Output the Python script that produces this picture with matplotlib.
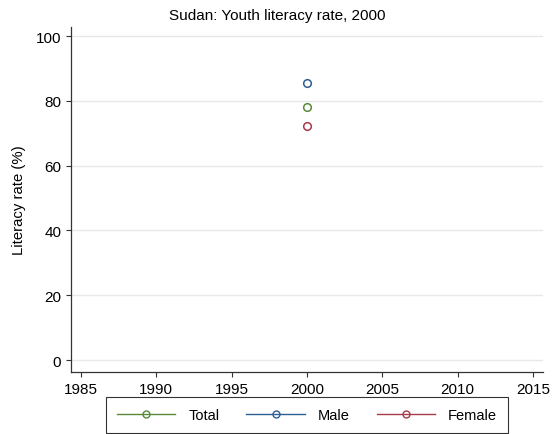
import matplotlib
matplotlib.use("Agg")
import matplotlib.pyplot as plt
from matplotlib.lines import Line2D

plt.rcParams['font.family'] = ['Liberation Sans', 'DejaVu Sans']

years = [2000]
series_names = ["Total", "Male", "Female"]
total = [78.1]
male = [85.6]
female = [72.2]
colors = ["#5a8a3a", "#2c5f94", "#a8394d"]
yticks = [0, 20, 40, 60, 80, 100]
xticks = [1985, 1990, 1995, 2000, 2005, 2010, 2015]

fig = plt.figure(figsize=(5.57, 4.35), dpi=100)
ax = fig.add_axes([71/557, 1-373/435, (543-71)/557, (373-28)/435])

for vals, c, name in zip([total, male, female], colors, series_names):
    ax.plot(years, vals, color=c, marker='o', markersize=5.5, markerfacecolor='none',
            markeredgewidth=1.1, linestyle='-', linewidth=1, label=name)

ax.set_xlim(1984.34, 2015.66)
ax.set_ylim(-3.7, 102.8)
ax.set_xticks(xticks)
ax.set_yticks(yticks)
ax.grid(axis='y', color='#e8e8e8', linewidth=1)
ax.set_axisbelow(True)
for s in ['top', 'right']:
    ax.spines[s].set_visible(False)
for s in ['left', 'bottom']:
    ax.spines[s].set_color('#333333')
    ax.spines[s].set_linewidth(0.9)
ax.tick_params(labelsize=11, length=3.5, width=0.8, color='#333333', pad=3.5)
ax.set_ylabel("Literacy rate (%)", fontsize=10.7, labelpad=7)
fig.text(277/557, 1-20/435, "Sudan: Youth literacy rate, 2000", fontsize=11,
         ha='center', va='baseline')

handles = [Line2D([0], [0], color=c, marker='o', markersize=5, markerfacecolor='none',
                  markeredgewidth=1.0, linewidth=1) for c in colors]
leg = fig.legend(handles, series_names, loc='lower center', bbox_to_anchor=(307/557, 1/435),
                 ncol=3, fontsize=10.5, frameon=True, fancybox=False, edgecolor='black',
                 handlelength=4.0, columnspacing=1.85, borderpad=0.75, handletextpad=0.9,
                 borderaxespad=0)
leg.get_frame().set_linewidth(0.8)

fig.savefig("out.png", dpi=100)
